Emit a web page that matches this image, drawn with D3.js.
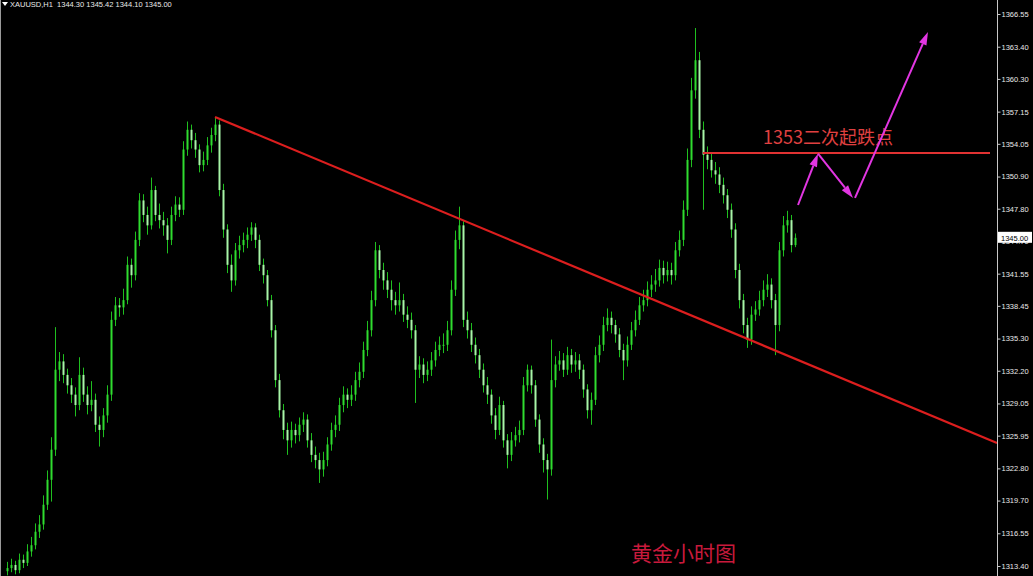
<!DOCTYPE html>
<html><head><meta charset="utf-8">
<script src="https://cdn.jsdelivr.net/npm/d3@7"></script>
<style>html,body{margin:0;padding:0;background:#000;overflow:hidden}svg{display:block}</style>
</head><body>
<svg id="c" width="1033" height="576"></svg>
<script>
const symbolLabel = "XAUUSD,H1  1344.30 1345.42 1344.10 1345.00";
const opens = [
1312.9,1313.2,1313.5,1313.0,1314.0,1313.7,1314.8,1315.4,1316.7,1317.4,
1319.3,1321.7,1324.6,1332.3,1333.1,1331.8,1330.8,1329.9,1328.9,1331.8,
1329.9,1328.9,1329.4,1327.0,1326.5,1327.9,1329.9,1337.1,1338.5,1338.3,
1339.0,1342.4,1341.4,1344.8,1348.6,1347.2,1346.2,1349.6,1347.2,1346.7,
1346.2,1344.8,1347.2,1348.2,1347.7,1353.5,1355.4,1354.4,1353.5,1352.0,
1352.5,1353.9,1354.9,1355.9,1349.6,1345.8,1342.4,1340.9,1343.8,1344.3,
1344.8,1345.3,1346.0,1344.8,1342.4,1341.4,1339.0,1336.1,1331.3,1328.4,
1326.5,1325.5,1326.5,1326.0,1327.0,1327.5,1325.5,1324.1,1323.6,1322.7,
1323.6,1325.1,1326.5,1327.0,1328.9,1329.9,1329.4,1329.9,1331.3,1332.1,
1334.2,1336.1,1339.0,1343.8,1341.9,1340.9,1340.0,1339.0,1338.5,1339.0,
1337.6,1337.1,1336.1,1332.3,1332.8,1331.8,1332.3,1333.2,1334.2,1334.7,
1334.7,1336.1,1340.0,1344.8,1346.2,1337.1,1336.1,1334.7,1333.7,1332.3,
1330.8,1329.9,1327.9,1326.5,1328.9,1325.5,1324.1,1325.5,1326.0,1326.5,
1330.8,1332.3,1330.8,1327.5,1325.1,1323.6,1322.7,1331.3,1332.8,1333.2,
1332.3,1333.7,1332.8,1333.2,1332.3,1330.4,1328.4,1329.4,1333.7,1334.7,
1336.6,1337.3,1336.6,1335.7,1334.2,1333.2,1334.7,1336.1,1337.1,1338.5,
1339.0,1340.0,1340.5,1340.9,1342.1,1341.4,1341.9,1341.4,1343.8,1344.8,
1347.7,1352.5,1359.2,1362.1,1355.4,1353.0,1352.5,1351.5,1351.1,1350.1,
1349.1,1347.7,1345.8,1341.9,1339.0,1336.6,1335.2,1337.6,1338.1,1339.0,
1340.0,1340.5,1339.0,1336.6,1343.8,1346.2,1346.7,1344.30];
const highs = [
1313.8,1314.1,1313.9,1314.6,1314.5,1315.5,1316.2,1317.5,1318.3,1320.2,
1322.6,1325.8,1336.4,1334.0,1333.8,1332.4,1331.5,1330.6,1333.5,1332.5,
1330.7,1331.2,1330.0,1327.8,1328.6,1330.8,1337.9,1339.3,1339.2,1340.1,
1343.2,1343.0,1345.6,1349.3,1349.2,1348.0,1350.8,1350.0,1348.3,1347.5,
1346.9,1348.0,1349.0,1348.9,1354.3,1356.2,1355.9,1355.1,1354.0,1353.3,
1354.7,1355.6,1356.6,1356.3,1350.2,1346.3,1343.4,1344.5,1345.2,1345.5,
1346.0,1346.5,1346.4,1345.3,1343.0,1341.9,1339.5,1336.6,1331.9,1329.0,
1327.2,1327.3,1327.1,1327.7,1328.2,1328.0,1326.2,1324.9,1324.3,1324.4,
1325.8,1327.2,1327.9,1329.6,1330.7,1330.5,1330.8,1332.1,1333.0,1335.0,
1337.0,1339.9,1344.6,1344.3,1342.6,1341.7,1340.9,1339.8,1340.7,1339.6,
1338.4,1337.8,1336.6,1333.6,1333.4,1333.1,1334.0,1335.0,1335.5,1335.8,
1337.0,1340.9,1345.7,1348.0,1346.6,1337.9,1336.8,1335.4,1334.3,1332.9,
1331.6,1330.4,1328.6,1329.7,1329.3,1326.1,1326.3,1326.8,1327.4,1331.6,
1332.8,1332.7,1331.3,1328.0,1325.7,1324.2,1335.2,1333.6,1334.1,1333.9,
1334.5,1334.3,1334.0,1333.8,1332.8,1330.9,1330.1,1334.5,1335.6,1337.4,
1338.2,1337.9,1337.1,1336.3,1334.8,1335.5,1336.9,1338.0,1339.3,1340.0,
1340.8,1341.4,1342.0,1342.9,1342.8,1342.7,1342.6,1344.6,1345.7,1348.6,
1353.6,1360.4,1365.2,1362.9,1356.2,1353.8,1353.1,1352.3,1351.8,1350.8,
1349.7,1348.3,1346.4,1342.5,1339.6,1337.3,1338.4,1338.9,1339.9,1340.9,
1341.5,1341.1,1339.6,1344.6,1347.1,1347.6,1347.2,1345.42];
const lows = [
1312.5,1312.8,1312.6,1312.7,1313.2,1313.4,1314.3,1315.0,1316.1,1316.9,
1318.8,1319.6,1324.0,1331.2,1331.0,1330.0,1329.1,1327.8,1328.4,1329.2,
1328.0,1328.3,1326.3,1324.9,1325.8,1327.2,1329.3,1336.5,1337.4,1337.6,
1338.6,1340.2,1340.9,1344.2,1346.5,1345.3,1345.8,1346.6,1345.9,1345.2,
1343.5,1344.3,1346.6,1347.0,1347.2,1352.9,1353.6,1352.7,1351.3,1351.4,
1352.0,1353.2,1354.3,1349.0,1345.0,1341.6,1339.8,1340.4,1343.0,1343.6,
1344.0,1344.7,1344.0,1341.8,1340.6,1338.4,1335.4,1330.6,1327.7,1325.6,
1324.1,1324.8,1325.2,1325.4,1326.3,1324.8,1323.4,1322.8,1321.4,1322.0,
1323.0,1324.5,1325.8,1326.4,1328.2,1328.6,1328.8,1329.3,1330.6,1331.5,
1333.6,1335.5,1338.4,1341.1,1340.0,1339.2,1338.0,1337.6,1337.9,1336.9,
1336.3,1335.3,1329.1,1331.5,1331.0,1331.2,1331.7,1332.6,1333.6,1333.9,
1334.1,1335.6,1339.4,1343.9,1336.4,1335.3,1334.0,1332.9,1331.5,1330.1,
1329.0,1327.1,1325.6,1326.0,1324.8,1322.8,1323.5,1324.9,1325.3,1326.0,
1330.2,1330.0,1326.8,1324.3,1322.4,1319.8,1322.1,1330.6,1332.2,1331.6,
1331.8,1332.0,1332.1,1331.4,1329.6,1327.6,1327.0,1328.9,1333.0,1334.1,
1336.0,1335.8,1334.9,1333.5,1331.3,1332.6,1334.2,1335.5,1336.6,1337.9,
1338.4,1339.3,1339.8,1340.3,1340.6,1340.8,1340.5,1340.9,1343.2,1344.2,
1347.1,1351.8,1358.4,1354.6,1347.7,1351.6,1350.8,1350.2,1349.3,1348.3,
1346.9,1345.0,1341.1,1338.2,1335.8,1334.4,1334.7,1337.0,1337.5,1338.4,
1339.3,1338.2,1333.7,1336.0,1343.2,1345.5,1343.6,1344.10];
const closes = [
1313.2,1313.5,1313.0,1314.0,1313.7,1314.8,1315.4,1316.7,1317.4,1319.3,
1321.7,1324.6,1332.3,1333.1,1331.8,1330.8,1329.9,1328.9,1331.8,1329.9,
1328.9,1329.4,1327.0,1326.5,1327.9,1329.9,1337.1,1338.5,1338.3,1339.0,
1342.4,1341.4,1344.8,1348.6,1347.2,1346.2,1349.6,1347.2,1346.7,1346.2,
1344.8,1347.2,1348.2,1347.7,1353.5,1355.4,1354.4,1353.5,1352.0,1352.5,
1353.9,1354.9,1355.9,1349.6,1345.8,1342.4,1340.9,1343.8,1344.3,1344.8,
1345.3,1346.0,1344.8,1342.4,1341.4,1339.0,1336.1,1331.3,1328.4,1326.5,
1325.5,1326.5,1326.0,1327.0,1327.5,1325.5,1324.1,1323.6,1322.7,1323.6,
1325.1,1326.5,1327.0,1328.9,1329.9,1329.4,1329.9,1331.3,1332.1,1334.2,
1336.1,1339.0,1343.8,1341.9,1340.9,1340.0,1339.0,1338.5,1339.0,1337.6,
1337.1,1336.1,1332.3,1332.8,1331.8,1332.3,1333.2,1334.2,1334.7,1334.7,
1336.1,1340.0,1344.8,1346.2,1337.1,1336.1,1334.7,1333.7,1332.3,1330.8,
1329.9,1327.9,1326.5,1328.9,1325.5,1324.1,1325.5,1326.0,1326.5,1330.8,
1332.3,1330.8,1327.5,1325.1,1323.6,1322.7,1331.3,1332.8,1333.2,1332.3,
1333.7,1332.8,1333.2,1332.3,1330.4,1328.4,1329.4,1333.7,1334.7,1336.6,
1337.3,1336.6,1335.7,1334.2,1333.2,1334.7,1336.1,1337.1,1338.5,1339.0,
1340.0,1340.5,1340.9,1342.1,1341.4,1341.9,1341.4,1343.8,1344.8,1347.7,
1352.5,1359.2,1362.1,1355.4,1353.0,1352.5,1351.5,1351.1,1350.1,1349.1,
1347.7,1345.8,1341.9,1339.0,1336.6,1335.2,1337.6,1338.1,1339.0,1340.0,
1340.5,1339.0,1336.6,1343.8,1346.2,1346.7,1344.3,1345.00];
const priceTicks = [1366.55,1363.40,1360.30,1357.15,1354.05,1350.90,1347.80,1344.70,1341.55,1338.45,1335.30,1332.20,1329.05,1325.95,1322.80,1319.70,1316.55,1313.40];
const lastPrice = 1345.00;
// trendline (bar index, price)
const trendLine = [[52,1356.64],[247.5,1325.25]];
const levelLine = [[174,1353.17],[245.75,1353.17]];
const levelLabel = "1353二次起跌点";
const levelLabelAt = [189,1354.0];
// forecast arrows (bar index, price)
const arrows = [
  [[197.75,1348.16],[202.75,1353.10]],
  [[202.75,1353.10],[211.5,1348.84]],
  [[212,1348.84],[230.25,1364.82]]
];
const titleText = "黄金小时图";
const titleAt = [156,1313.9];

const W = 1033, H = 576, axisX = 997;
const svg = d3.select("#c");
svg.append("rect").attr("width",W).attr("height",H).attr("fill","#000");

const n = closes.length;
const x = d3.scaleLinear().domain([0, n-1]).range([7, 795]);
const y = d3.scaleLinear().domain([1313.40, 1366.55]).range([566, 14]);

// left border
svg.append("line").attr("x1",0.5).attr("x2",0.5).attr("y1",0).attr("y2",H).attr("stroke","#9a9a9a").attr("stroke-width",1);

// candles
const g = svg.append("g");
const data = closes.map((c,i)=>({i,o:opens[i],h:highs[i],l:lows[i],c}));
g.selectAll("line.w").data(data).join("line")
  .attr("x1",d=>Math.round(x(d.i))+0.5).attr("x2",d=>Math.round(x(d.i))+0.5)
  .attr("y1",d=>y(d.h)).attr("y2",d=>y(d.l))
  .attr("stroke","#1fbf1f").attr("stroke-width",1);
g.selectAll("rect.b").data(data).join("rect")
  .attr("x",d=>Math.round(x(d.i))-0.5).attr("width",2)
  .attr("y",d=>y(Math.max(d.o,d.c)))
  .attr("height",d=>Math.max(1,Math.abs(y(d.o)-y(d.c))))
  .attr("fill",d=>d.c>=d.o?"#2fdc2f":"#a8f5a8");

// trend line
const line = d3.line().x(d=>x(d[0])).y(d=>y(d[1]));
svg.append("path").attr("d",line(trendLine)).attr("stroke","#dc1e1e").attr("stroke-width",2.2).attr("fill","none");
svg.append("path").attr("d",line(levelLine)).attr("stroke","#e03232").attr("stroke-width",2).attr("fill","none");
svg.append("text").attr("x",x(levelLabelAt[0])).attr("y",y(levelLabelAt[1]))
  .attr("fill","#e04040").attr("font-family","'Noto Sans CJK SC','Liberation Sans',sans-serif")
  .attr("font-size",18).text(levelLabel);

// arrows
const mag = "#e236e2";
arrows.forEach(a=>{
  const x1=x(a[0][0]), y1=y(a[0][1]), x2=x(a[1][0]), y2=y(a[1][1]);
  const ang=Math.atan2(y2-y1,x2-x1), L=13, Wd=4;
  const bx=x2-L*Math.cos(ang), by=y2-L*Math.sin(ang);
  svg.append("line").attr("x1",x1).attr("y1",y1).attr("x2",bx).attr("y2",by).attr("stroke",mag).attr("stroke-width",2);
  const px=-Math.sin(ang), py=Math.cos(ang);
  svg.append("path").attr("d",`M${x2},${y2}L${bx+px*Wd},${by+py*Wd}L${bx-px*Wd},${by-py*Wd}Z`).attr("fill",mag);
});

// title
svg.append("text").attr("x",x(titleAt[0])).attr("y",y(titleAt[1]))
  .attr("fill","#c81a3c").attr("font-family","'Noto Sans CJK SC',sans-serif")
  .attr("font-size",21).text(titleText);

// axis
svg.append("line").attr("x1",axisX+0.5).attr("x2",axisX+0.5).attr("y1",0).attr("y2",H).attr("stroke","#c8c8c8");
const ax = svg.append("g").attr("transform",`translate(${axisX+0.5},0)`)
  .call(d3.axisRight(y).tickValues(priceTicks).tickFormat(d3.format(".2f")).tickSize(3).tickPadding(1));
ax.select(".domain").remove();
ax.selectAll(".tick line").attr("stroke","#c8c8c8");
ax.selectAll(".tick text").attr("fill","#e8e8e8").attr("font-family","'Liberation Sans',Arial,sans-serif").attr("font-size",7.5);

// last price box
const ly = y(lastPrice);
svg.append("rect").attr("x",axisX+1).attr("y",ly-6).attr("width",34).attr("height",11).attr("fill","#fff");
svg.append("text").attr("x",axisX+4).attr("y",ly+3).attr("fill","#000").attr("font-family","'Liberation Sans',Arial,sans-serif").attr("font-size",7.5).text(d3.format(".2f")(lastPrice));

// top-left label
svg.append("path").attr("d","M2,2L8,2L5,6Z").attr("fill","#fff");
svg.append("text").attr("x",10).attr("y",7).attr("fill","#e8e8e8").attr("font-family","'Liberation Sans',Arial,sans-serif").attr("font-size",7.5).attr("xml:space","preserve").style("white-space","pre").text(symbolLabel);
</script>
</body></html>
